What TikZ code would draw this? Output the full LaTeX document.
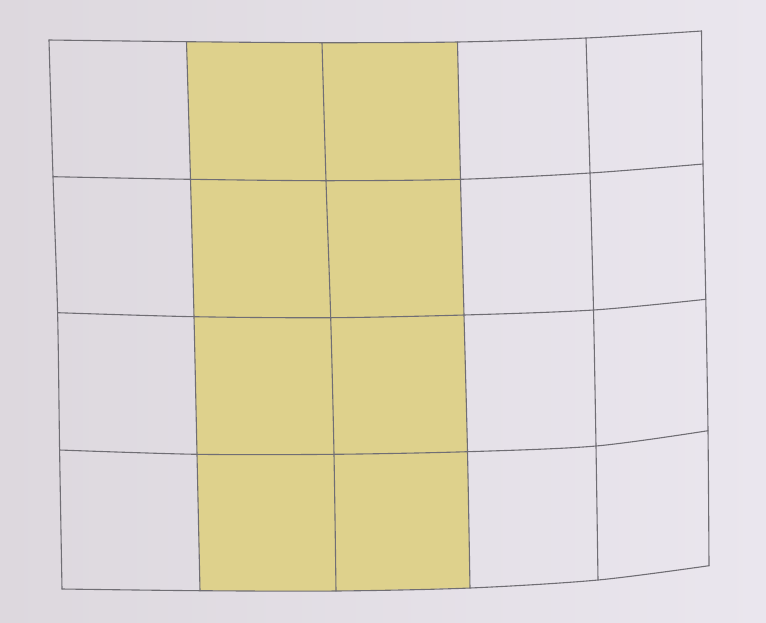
\documentclass[tikz,border=0pt]{standalone}
\usetikzlibrary{calc}
\definecolor{paperL}{RGB}{221,216,222}
\definecolor{paperR}{RGB}{234,230,238}
\definecolor{cellY}{RGB}{222,209,140}
\definecolor{gridline}{RGB}{112,110,116}
\begin{document}
\begin{tikzpicture}[x=1pt,y=-1pt,
  gridstroke/.style={draw=gridline,line width=1.1pt,line cap=round,line join=round}]
\useasboundingbox (0,0) rectangle (766,622);
\shade[left color=paperL,right color=paperR] (0,0) rectangle (766,622);
% grid points p-row-col
\coordinate (p-0-0) at (49,40);   \coordinate (p-0-1) at (186.5,41.7); \coordinate (p-0-2) at (322,42.7);
\coordinate (p-0-3) at (457.5,42); \coordinate (p-0-4) at (586,38);   \coordinate (p-0-5) at (701.5,31);
\coordinate (p-1-0) at (53,176.7); \coordinate (p-1-1) at (190.5,179.3); \coordinate (p-1-2) at (326,180.7);
\coordinate (p-1-3) at (460.5,179.3); \coordinate (p-1-4) at (590,173); \coordinate (p-1-5) at (703,164);
\coordinate (p-2-0) at (57.6,312.7); \coordinate (p-2-1) at (194,316.7); \coordinate (p-2-2) at (330.7,317.7);
\coordinate (p-2-3) at (464,315); \coordinate (p-2-4) at (593.5,310); \coordinate (p-2-5) at (705.8,299.3);
\coordinate (p-3-0) at (59.6,450); \coordinate (p-3-1) at (197,454.3); \coordinate (p-3-2) at (334,454.3);
\coordinate (p-3-3) at (467.5,451.7); \coordinate (p-3-4) at (596,446); \coordinate (p-3-5) at (708,430.7);
\coordinate (p-4-0) at (62,589); \coordinate (p-4-1) at (200,590.7); \coordinate (p-4-2) at (336,591);
\coordinate (p-4-3) at (470,588); \coordinate (p-4-4) at (598,580); \coordinate (p-4-5) at (709,565.7);
% yellow columns
\fill[cellY] (p-0-1) -- (p-0-2) -- (p-0-3) -- (p-1-3) -- (p-2-3) -- (p-3-3) -- (p-4-3)
  -- (p-4-2) -- (p-4-1) -- (p-3-1) -- (p-2-1) -- (p-1-1) -- cycle;
% horizontal lines
\foreach \r in {0,...,4}{
  \draw[gridstroke] plot[smooth,tension=0.5] coordinates {(p-\r-0) (p-\r-1) (p-\r-2) (p-\r-3) (p-\r-4) (p-\r-5)};
}
% vertical lines
\foreach \c in {0,...,5}{
  \draw[gridstroke] plot[smooth,tension=0.5] coordinates {(p-0-\c) (p-1-\c) (p-2-\c) (p-3-\c) (p-4-\c)};
}
\end{tikzpicture}
\end{document}
